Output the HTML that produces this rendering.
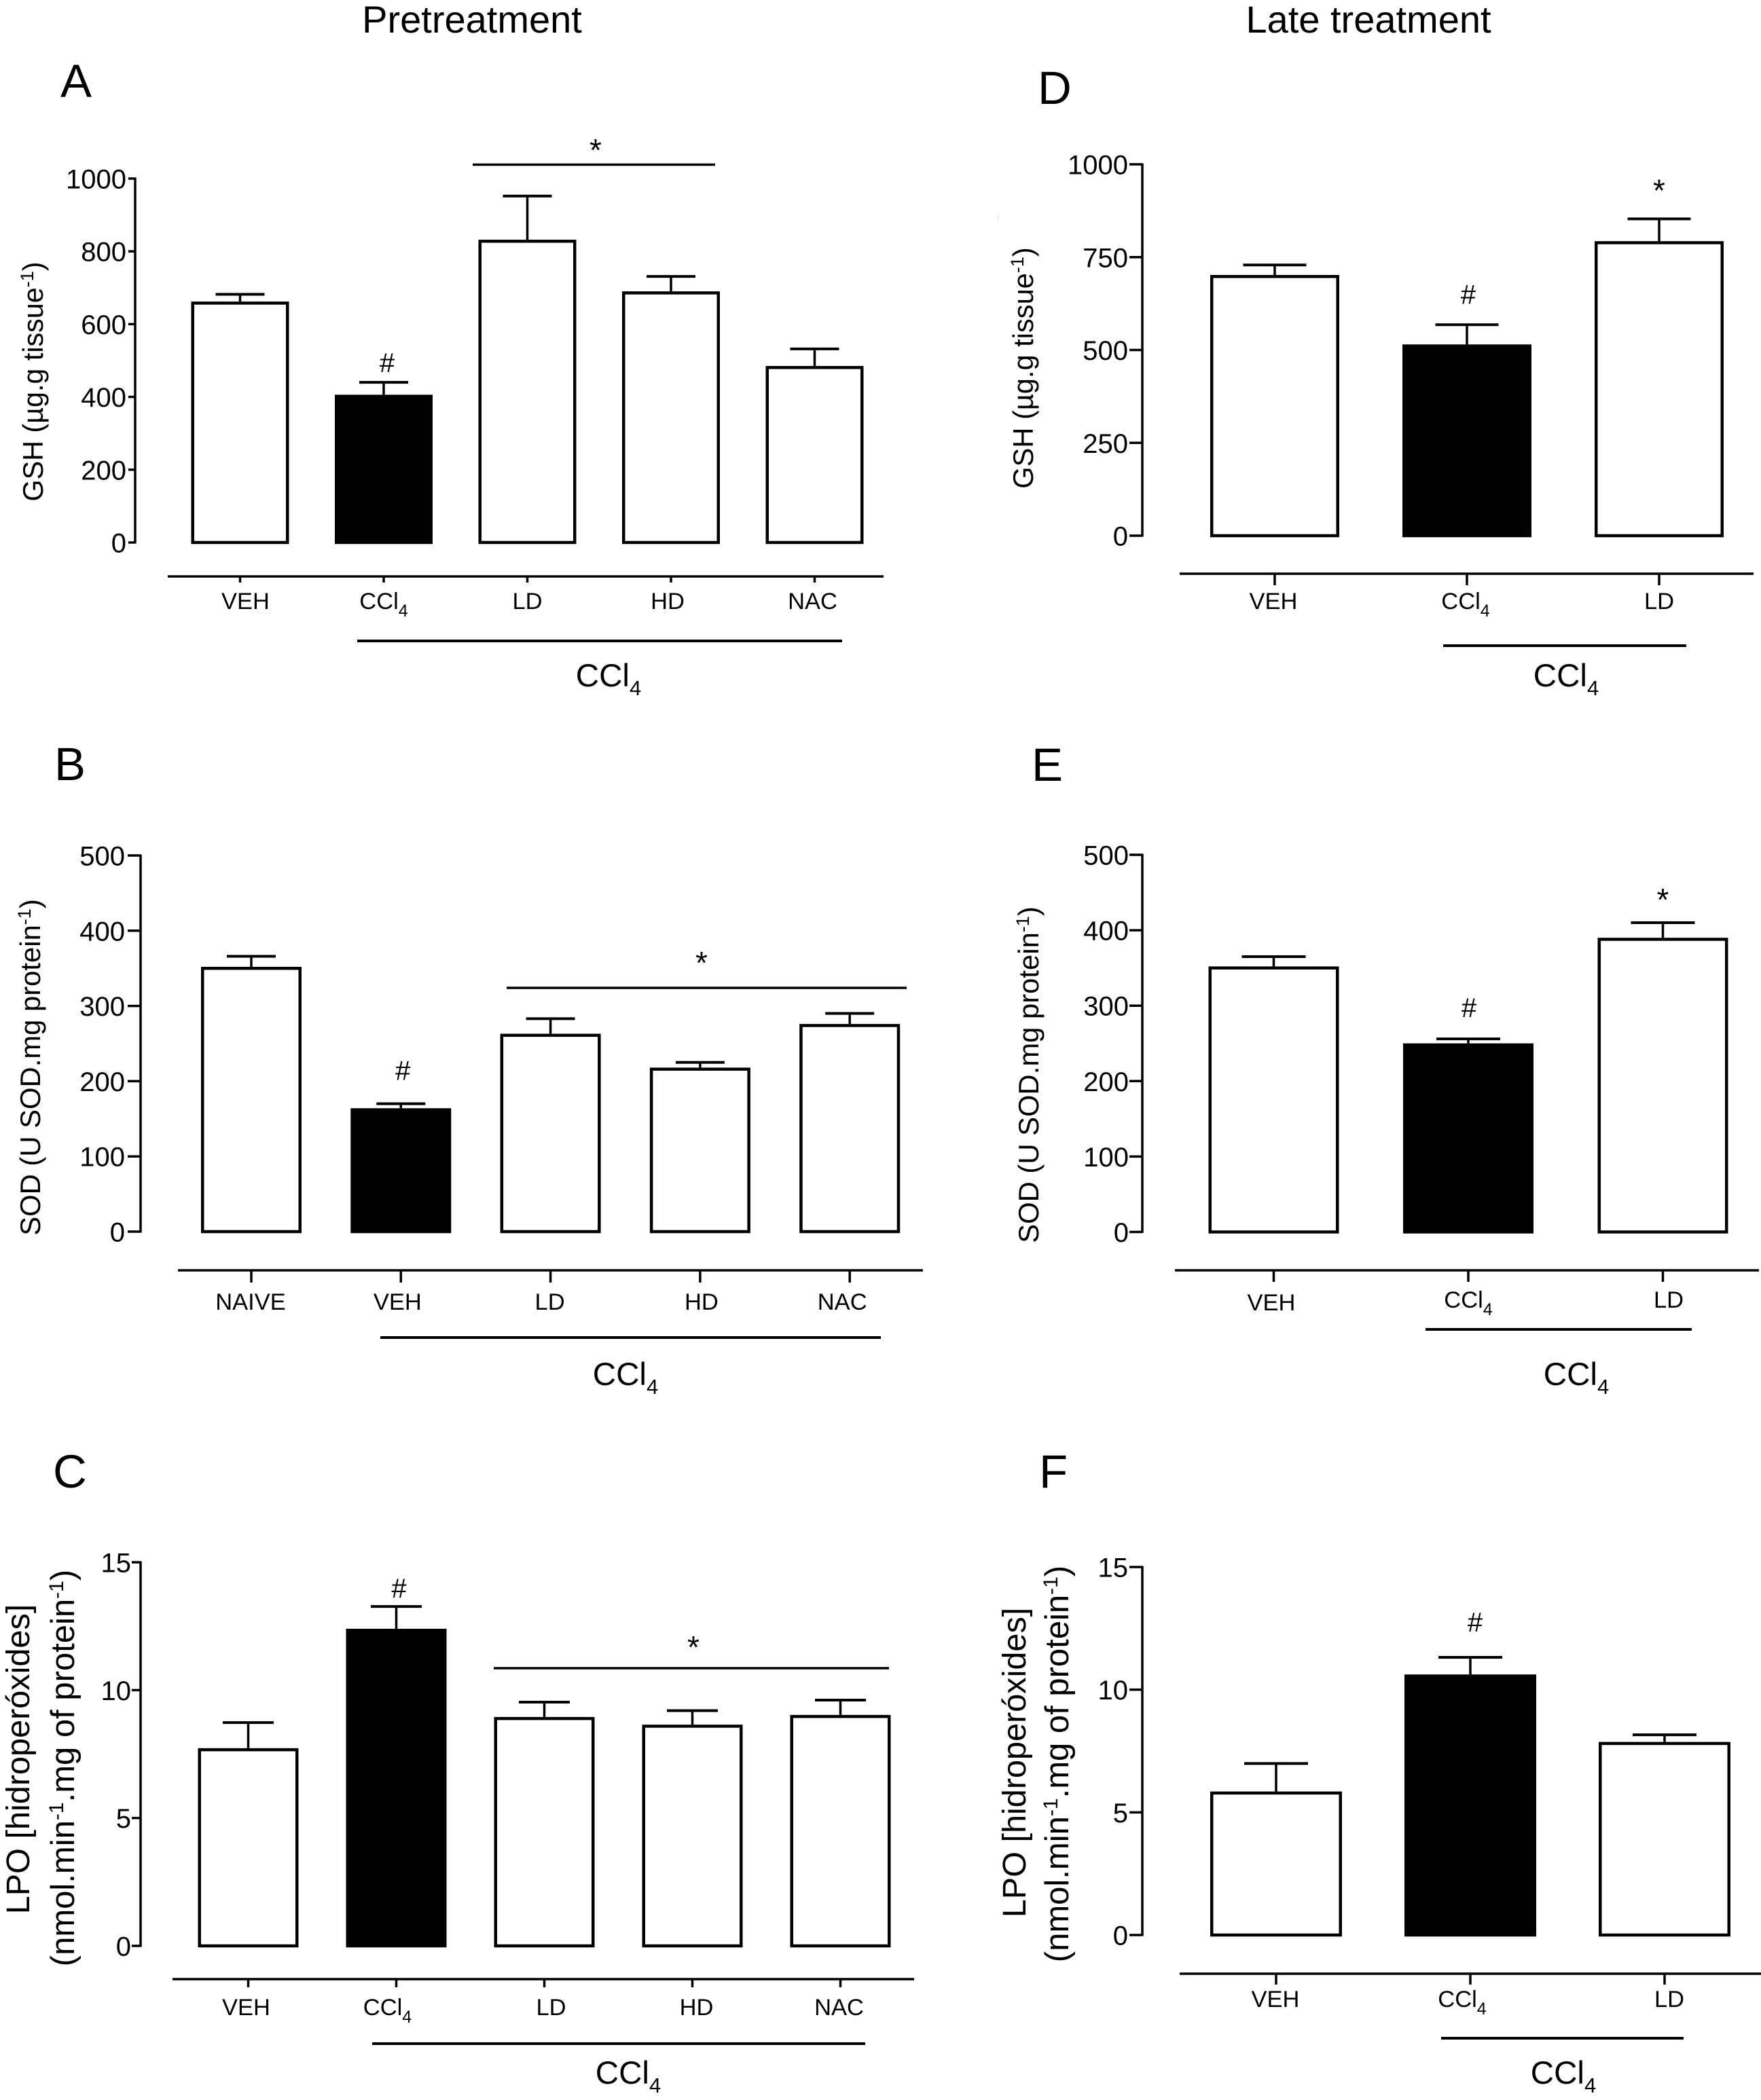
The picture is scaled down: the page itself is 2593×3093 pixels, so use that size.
<!DOCTYPE html>
<html lang="en">
<head>
<meta charset="utf-8">
<title>Pretreatment and late treatment oxidative stress bar charts</title>
<style>
html,body{margin:0;padding:0;background:#fff;}
svg{display:block;font-family:"Liberation Sans",Arial,sans-serif;fill:#000;}
.col{font-size:56px;text-anchor:middle;}
.letter{font-size:69px;}
.ytitle{text-anchor:middle;}
</style>
</head>
<body>
<svg id="figure" xmlns="http://www.w3.org/2000/svg" width="2593" height="3093" viewBox="0 0 2593 3093">
  <rect x="0" y="0" width="2593" height="3093" fill="#fff"/>
  <text class="col" x="695" y="48">Pretreatment</text>
  <text class="col" x="2015" y="48">Late treatment</text>
  <rect x="1469" y="316" width="1.5" height="9" fill="#efe6c4"/>

  <g id="panel-a">
    <text class="letter" x="89" y="143">A</text>
    <text class="ytitle" font-size="41.3" transform="translate(63 562) rotate(-90)">GSH (µg.g tissue<tspan font-size="27" dy="-14">-1</tspan><tspan dy="14">)</tspan></text>
  </g>
  <g id="panel-b">
    <text class="letter" x="80" y="1149">B</text>
    <text class="ytitle" font-size="41.8" transform="translate(59 1572) rotate(-90)">SOD (U SOD.mg protein<tspan font-size="27" dy="-14">-1</tspan><tspan dy="14">)</tspan></text>
  </g>
  <g id="panel-c">
    <text class="letter" x="78" y="2191">C</text>
    <text class="ytitle" font-size="48.6" transform="translate(43 2591) rotate(-90)">LPO [hidroperóxides]</text>
    <text class="ytitle" font-size="49" transform="translate(109 2604) rotate(-90)">(nmol.min<tspan font-size="30" dy="-16">-1</tspan><tspan dy="16">.mg of protein</tspan><tspan font-size="30" dy="-16">-1</tspan><tspan dy="16">)</tspan></text>
  </g>
  <g id="panel-d">
    <text class="letter" x="1528" y="153">D</text>
    <text class="ytitle" font-size="41.6" transform="translate(1521 542) rotate(-90)">GSH (µg.g tissue<tspan font-size="27" dy="-14">-1</tspan><tspan dy="14">)</tspan></text>
  </g>
  <g id="panel-e">
    <text class="letter" x="1519" y="1150">E</text>
    <text class="ytitle" font-size="41.8" transform="translate(1529 1583) rotate(-90)">SOD (U SOD.mg protein<tspan font-size="27" dy="-14">-1</tspan><tspan dy="14">)</tspan></text>
  </g>
  <g id="panel-f">
    <text class="letter" x="1530" y="2191">F</text>
    <text class="ytitle" font-size="48.6" transform="translate(1510 2596) rotate(-90)">LPO [hidroperóxides]</text>
    <text class="ytitle" font-size="49" transform="translate(1573 2598) rotate(-90)">(nmol.min<tspan font-size="30" dy="-16">-1</tspan><tspan dy="16">.mg of protein</tspan><tspan font-size="30" dy="-16">-1</tspan><tspan dy="16">)</tspan></text>
  </g>
</svg>
<script>
// ---- chart data ----
const gshPreCategories = ['VEH', 'CCl4', 'LD', 'HD', 'NAC'];
const gshPreValues = [662, 406, 832, 690, 485];
const gshPreErrors = [20, 34, 120, 41, 47];
const gshPreTicks = [0, 200, 400, 600, 800, 1000];

const sodPreCategories = ['NAIVE', 'VEH', 'LD', 'HD', 'NAC'];
const sodPreValues = [352, 164, 263, 218, 276];
const sodPreErrors = [14, 6, 20, 7, 14];
const sodPreTicks = [0, 100, 200, 300, 400, 500];

const lpoPreCategories = ['VEH', 'CCl4', 'LD', 'HD', 'NAC'];
const lpoPreValues = [7.73, 12.4, 8.95, 8.65, 9.03];
const lpoPreErrors = [1, 0.87, 0.58, 0.55, 0.58];
const lpoPreTicks = [0, 5, 10, 15];

const gshLateCategories = ['VEH', 'CCl4', 'LD'];
const gshLateValues = [702, 515, 793];
const gshLateErrors = [27, 53, 60];
const gshLateTicks = [0, 250, 500, 750, 1000];

const sodLateCategories = ['VEH', 'CCl4', 'LD'];
const sodLateValues = [352, 250, 390];
const sodLateErrors = [13, 6, 20];
const sodLateTicks = [0, 100, 200, 300, 400, 500];

const lpoLateCategories = ['VEH', 'CCl4', 'LD'];
const lpoLateValues = [5.85, 10.62, 7.87];
const lpoLateErrors = [1.14, 0.7, 0.29];
const lpoLateTicks = [0, 5, 10, 15];

const SVG_NS = 'http://www.w3.org/2000/svg';

function make(tag, attrs, parent) {
  const node = document.createElementNS(SVG_NS, tag);
  for (const key in attrs) node.setAttribute(key, attrs[key]);
  parent.appendChild(node);
  return node;
}

function rule(parent, x1, y1, x2, y2, width) {
  return make('line', { x1: x1, y1: y1, x2: x2, y2: y2, stroke: '#000', 'stroke-width': width }, parent);
}

// Writes a label; "CCl4" gets a subscript 4.
function chemText(node, label, subSize, subDrop) {
  if (label === 'CCl4') {
    node.textContent = 'CCl';
    const sub = make('tspan', { 'font-size': subSize, dy: subDrop }, node);
    sub.textContent = '4';
  } else {
    node.textContent = label;
  }
}

function drawPanel(p) {
  const root = document.getElementById(p.id);
  const maxTick = p.ticks[p.ticks.length - 1];
  const yScale = function (v) { return p.yBottom - (v / maxTick) * (p.yBottom - p.yTop); };
  const xScale = function (i) { return p.xStart + i * p.xStep; };

  // y axis
  const yAxisLine = rule(root, p.yAxisX, p.yTop - 1.5, p.yAxisX, p.yBottom + 1.5, 3.5);
  
  
  p.ticks.forEach(function (t) {
    const tick = rule(root, p.tickLeft, yScale(t), p.yAxisX, yScale(t), 3.5);
    
    
    const label = make('text', { x: p.tickLabelRight, y: yScale(t) + 14.5, 'text-anchor': 'end', 'font-size': 40 }, root);
    label.textContent = String(t);
    
    
  });

  // bars and error bars
  p.categories.forEach(function (cat, i) {
    const cx = xScale(i);
    const capY = yScale(p.values[i] + p.errors[i]);
    const stem = rule(root, cx, capY, cx, yScale(p.values[i]), 3.5);
    
    
    const cap = rule(root, cx - p.capWidth / 2, capY, cx + p.capWidth / 2, capY, 4);
    
    
    const top = yScale(p.values[i]);
    const bar = make('rect', {
      x: cx - p.barWidth / 2 + 2.25, y: top + 2.25,
      width: p.barWidth - 4.5, height: p.yBottom - top - 2.25,
      fill: i === p.filledIndex ? '#000' : '#fff', stroke: '#000', 'stroke-width': 4.5,
      'stroke-linejoin': 'miter'
    }, root);
    
    

    const tick = rule(root, cx, p.xAxisY, cx, p.xTickEnd, 3.5);
    
    
    const label = make('text', {
      x: cx + p.labelNudgeX[i], y: p.labelY + p.labelNudgeY[i],
      'text-anchor': 'middle', 'font-size': 34.5
    }, root);
    chemText(label, cat, 25, 11);
    
    
  });

  // x axis
  const xAxisLine = rule(root, p.xAxisLeft, p.xAxisY, p.xAxisRight, p.xAxisY, 3.5);
  
  

  // CCl4 group bracket
  const groupLine = rule(root, p.groupLeft, p.groupY, p.groupRight, p.groupY, 4);
  
  
  const groupLabel = make('text', { x: p.groupLabelX, y: p.groupLabelY, 'text-anchor': 'middle', 'font-size': 47.5 }, root);
  chemText(groupLabel, 'CCl4', 31, 13);
  
  

  // significance markers
  const hashCap = yScale(p.values[p.filledIndex] + p.errors[p.filledIndex]);
  const hash = make('text', { x: xScale(p.filledIndex) + p.hashNudge, y: hashCap - p.hashGap + 14, 'text-anchor': 'middle', 'font-size': 40 }, root);
  hash.textContent = '#';
  
  

  if (p.sigLeft !== undefined) {
    const sigLine = rule(root, p.sigLeft, p.sigY, p.sigRight, p.sigY, 3.5);
    
    
    const star = make('text', { x: p.starX, y: p.starY + 20, 'text-anchor': 'middle', 'font-size': 46 }, root);
    star.textContent = '*';
    
    
  }
  if (p.starGap !== undefined) {
    const lastIndex = p.values.length - 1;
    const starCap = yScale(p.values[lastIndex] + p.errors[lastIndex]);
    const star2 = make('text', { x: xScale(lastIndex), y: starCap - p.starGap + 20, 'text-anchor': 'middle', 'font-size': 46 }, root);
    star2.textContent = '*';
    
    
  }
}

drawPanel({
  id: 'panel-a', categories: gshPreCategories, values: gshPreValues, errors: gshPreErrors, ticks: gshPreTicks,
  filledIndex: 1, yTop: 263, yBottom: 799, yAxisX: 199, tickLeft: 189, tickLabelRight: 186,
  xStart: 353.5, xStep: 211.5, barWidth: 144, capWidth: 72,
  xAxisY: 849, xAxisLeft: 247, xAxisRight: 1301, xTickEnd: 858,
  labelY: 897, labelNudgeX: [8, 0, 0, -5, -3], labelNudgeY: [0, 0, 0, 0, 0],
  groupY: 944, groupLeft: 526, groupRight: 1240, groupLabelX: 896, groupLabelY: 1011,
  hashGap: 29, hashNudge: 5, sigY: 242.5, sigLeft: 696, sigRight: 1053, starX: 877, starY: 217
});
drawPanel({
  id: 'panel-b', categories: sodPreCategories, values: sodPreValues, errors: sodPreErrors, ticks: sodPreTicks,
  filledIndex: 1, yTop: 1260, yBottom: 1814, yAxisX: 207, tickLeft: 188, tickLabelRight: 184,
  xStart: 370, xStep: 220.3, barWidth: 148, capWidth: 72,
  xAxisY: 1871, xAxisLeft: 262, xAxisRight: 1359, xTickEnd: 1889,
  labelY: 1929, labelNudgeX: [-1, -5, -1, 2, -11], labelNudgeY: [0, 0, 0, 0, 0],
  groupY: 1970, groupLeft: 560, groupRight: 1297, groupLabelX: 921, groupLabelY: 2040,
  hashGap: 49, hashNudge: 3, sigY: 1455, sigLeft: 746, sigRight: 1335, starX: 1033, starY: 1414
});
drawPanel({
  id: 'panel-c', categories: lpoPreCategories, values: lpoPreValues, errors: lpoPreErrors, ticks: lpoPreTicks,
  filledIndex: 1, yTop: 2301, yBottom: 2866, yAxisX: 207, tickLeft: 194, tickLabelRight: 193,
  xStart: 365.5, xStep: 218, barWidth: 148, capWidth: 75,
  xAxisY: 2915, xAxisLeft: 254, xAxisRight: 1346, xTickEnd: 2927,
  labelY: 2968, labelNudgeX: [-3, -13, 10, 6, -2], labelNudgeY: [0, 0, 0, 0, 0],
  groupY: 3010, groupLeft: 548, groupRight: 1274, groupLabelX: 925, groupLabelY: 3069,
  hashGap: 27, hashNudge: 4, sigY: 2457, sigLeft: 727, sigRight: 1309, starX: 1021, starY: 2422
});
drawPanel({
  id: 'panel-d', categories: gshLateCategories, values: gshLateValues, errors: gshLateErrors, ticks: gshLateTicks,
  filledIndex: 1, yTop: 242, yBottom: 789, yAxisX: 1682, tickLeft: 1663, tickLabelRight: 1661,
  xStart: 1877, xStep: 283, barWidth: 190, capWidth: 93,
  xAxisY: 845, xAxisLeft: 1737, xAxisRight: 2582, xTickEnd: 862,
  labelY: 897, labelNudgeX: [-2, -2, 0], labelNudgeY: [0, 0, 0],
  groupY: 951, groupLeft: 2125, groupRight: 2483, groupLabelX: 2306, groupLabelY: 1011,
  hashGap: 45, hashNudge: 2, starGap: 46
});
drawPanel({
  id: 'panel-e', categories: sodLateCategories, values: sodLateValues, errors: sodLateErrors, ticks: sodLateTicks,
  filledIndex: 1, yTop: 1259, yBottom: 1814.5, yAxisX: 1682, tickLeft: 1663, tickLabelRight: 1662,
  xStart: 1875.5, xStep: 286.5, barWidth: 192, capWidth: 94,
  xAxisY: 1871, xAxisLeft: 1730, xAxisRight: 2590, xTickEnd: 1888,
  labelY: 1926, labelNudgeX: [-3.5, 0, 8.5], labelNudgeY: [4, 0, 0],
  groupY: 1958, groupLeft: 2099, groupRight: 2491, groupLabelX: 2321, groupLabelY: 2040,
  hashGap: 46, hashNudge: 1, starGap: 38
});
drawPanel({
  id: 'panel-f', categories: lpoLateCategories, values: lpoLateValues, errors: lpoLateErrors, ticks: lpoLateTicks,
  filledIndex: 1, yTop: 2308, yBottom: 2850, yAxisX: 1682, tickLeft: 1663, tickLabelRight: 1661,
  xStart: 1879, xStep: 286, barWidth: 194, capWidth: 94,
  xAxisY: 2907, xAxisLeft: 1737, xAxisRight: 2593, xTickEnd: 2923,
  labelY: 2956, labelNudgeX: [-1, -12, 7], labelNudgeY: [0, 0, 0],
  groupY: 3002, groupLeft: 2122, groupRight: 2479, groupLabelX: 2302, groupLabelY: 3069,
  hashGap: 52, hashNudge: 7
});
</script>
</body>
</html>
